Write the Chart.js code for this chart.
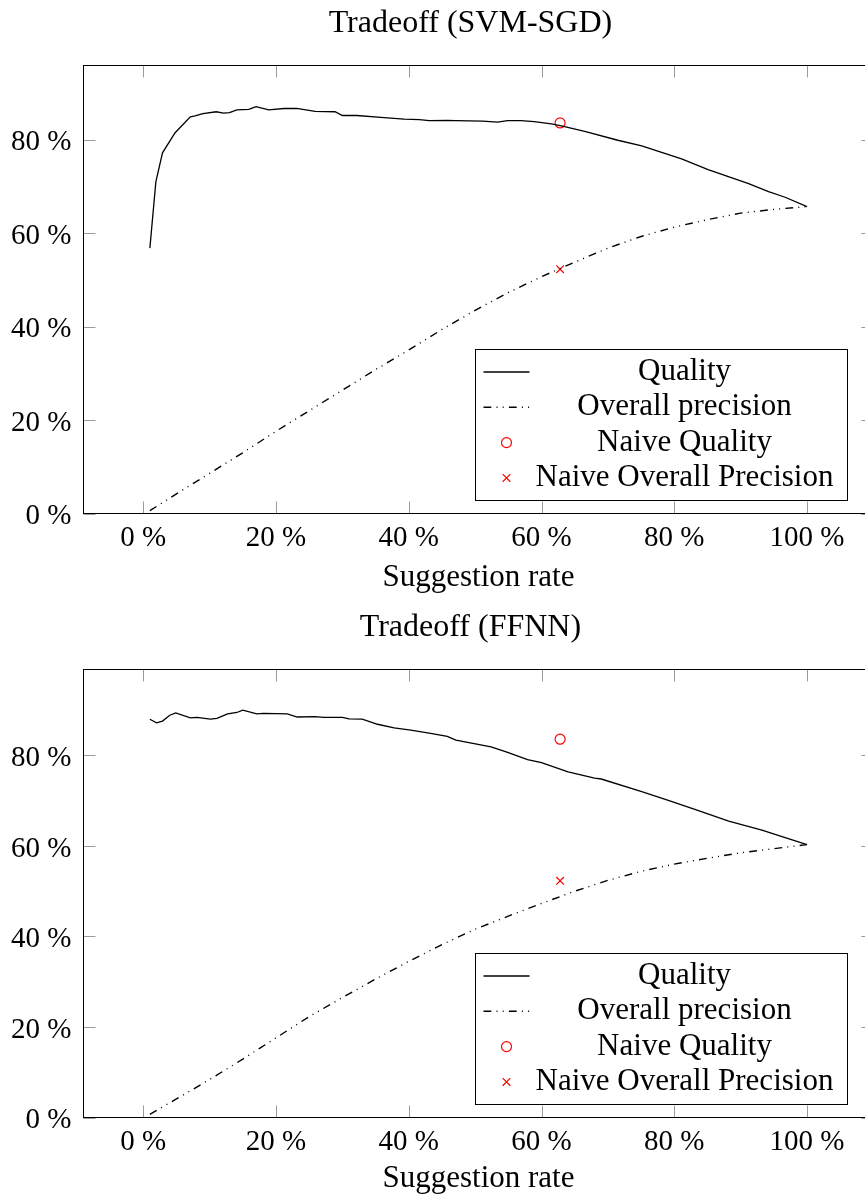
<!DOCTYPE html>
<html>
<head>
<meta charset="utf-8">
<script src="https://cdn.jsdelivr.net/npm/chart.js@4"></script>
<style>
  html, body { margin: 0; padding: 0; background: #fff; overflow: hidden; width: 865px; height: 1195px; }
  canvas { position: absolute; left: 0; }
  #svmChart { top: 0; }
  #ffnnChart { top: 604px; }
</style>
</head>
<body>
<canvas id="svmChart" width="880" height="600"></canvas>
<canvas id="ffnnChart" width="880" height="600"></canvas>
<script>
const rateTicks = [0, 20, 40, 60, 80, 100];
const percentTicks = [0, 20, 40, 60, 80];

// SVM-SGD
const svmQualityRate = [1.0, 1.9, 2.9, 4.8, 7.1, 7.8, 9.0, 11.0, 12.1, 13.0, 14.1, 15.9, 17.0, 18.9, 21.2, 23.1, 25.9, 28.9, 30.0, 32.2, 35.8, 39.3, 41.6, 43.1, 45.8, 47.1, 51.1, 53.4, 54.9, 56.9, 58.9, 61.5, 63.0, 66.5, 71.5, 75.1, 81.1, 85.1, 91.2, 94.2, 96.7, 100];
const svmQuality = [56.8, 71.0, 77.2, 81.5, 84.9, 85.1, 85.6, 86.0, 85.7, 85.8, 86.4, 86.5, 87.1, 86.4, 86.7, 86.7, 86.1, 86.0, 85.2, 85.2, 84.8, 84.4, 84.3, 84.1, 84.15, 84.1, 84.0, 83.8, 84.1, 84.1, 83.9, 83.4, 83.0, 81.8, 79.9, 78.7, 75.9, 73.6, 70.6, 68.9, 67.7, 65.7];
const svmPrecisionRate = [1, 5, 10, 15, 20, 25, 30, 35, 40, 45, 50, 55, 60, 65, 70, 75, 80, 85, 90, 95, 100];
const svmPrecision = [0.6, 4.2, 8.6, 13.0, 17.6, 22.0, 26.4, 30.8, 35.0, 39.4, 43.5, 47.3, 50.7, 53.8, 56.8, 59.3, 61.3, 62.9, 64.3, 65.1, 65.7];

// FFNN
const ffnnQualityRate = [1.0, 2.0, 2.9, 4.0, 4.9, 7.1, 8.1, 10.1, 11.1, 12.7, 14.1, 15.0, 17.1, 18.1, 21.7, 23.2, 25.9, 27.2, 30.0, 31.0, 33.0, 35.3, 37.8, 40.3, 43.3, 45.8, 47.1, 52.4, 54.9, 57.9, 60.0, 64.0, 68.0, 69.0, 75.1, 79.1, 83.1, 88.2, 93.2, 100];
const ffnnQuality = [88.0, 87.2, 87.6, 88.9, 89.4, 88.3, 88.4, 88.05, 88.2, 89.2, 89.5, 90.0, 89.2, 89.3, 89.2, 88.5, 88.6, 88.4, 88.4, 88.1, 88.05, 86.9, 86.1, 85.6, 84.9, 84.2, 83.4, 81.9, 80.7, 79.1, 78.4, 76.4, 75.0, 74.8, 72.0, 70.1, 68.1, 65.5, 63.5, 60.3];
const ffnnPrecisionRate = [1, 5, 10, 15, 20, 25, 30, 35, 40, 45, 50, 55, 60, 65, 70, 75, 80, 85, 90, 95, 100];
const ffnnPrecision = [0.7, 4.1, 8.4, 12.9, 17.6, 22.3, 26.5, 30.6, 34.5, 38.2, 41.6, 44.5, 47.3, 50.0, 52.4, 54.4, 56.0, 57.3, 58.5, 59.4, 60.3];

// naive baseline (same for both models)
const naiveRate = [62.8];
const naiveQuality = [83.6];
const naivePrecision = [52.3];

const seriesLabels = ['Quality', 'Overall precision', 'Naive Quality', 'Naive Overall Precision'];

const fontFamily = '"Liberation Serif", "Times New Roman", serif';
const precisionDash = [7.8, 5.2, 1, 5.2, 1, 5.2];

function points(xs, ys) {
  return xs.map((x, i) => ({x: x, y: ys[i]}));
}

// pgfplots look: black frame, ticks pointing inwards on all four sides, boxed legend bottom right
const boxPlugin = {
  id: 'box',
  afterLayout(chart) {
    // pgfplots puts the title a little left of the box centre here
    if (chart.titleBlock) {
      chart.titleBlock.left -= 16;
    }
  },
  afterDatasetsDraw(chart) {
    const {ctx, chartArea: a, scales: {x, y}} = chart;
    const tickLen = 12;
    ctx.save();

    ctx.strokeStyle = '#9a9a9a';
    ctx.lineWidth = 1;
    ctx.beginPath();
    x.ticks.forEach(t => {
      const px = Math.round(x.getPixelForValue(t.value)) + 0.5;
      ctx.moveTo(px, a.bottom); ctx.lineTo(px, a.bottom - tickLen);
      ctx.moveTo(px, a.top); ctx.lineTo(px, a.top + tickLen);
    });
    y.ticks.forEach(t => {
      const py = Math.round(y.getPixelForValue(t.value)) + 0.5;
      ctx.moveTo(a.left, py); ctx.lineTo(a.left + tickLen, py);
      ctx.moveTo(a.right, py); ctx.lineTo(a.right - tickLen, py);
    });
    ctx.stroke();

    ctx.strokeStyle = '#000';
    ctx.strokeRect(a.left, a.top, a.right - a.left, a.bottom - a.top);

    // legend
    const w = 372, h = 151, rowH = 35.3;
    const left = Math.round(a.right - 26 - w) + 0.5;
    const top = Math.round(a.bottom - 14 - h) + 0.5;
    ctx.fillStyle = '#fff';
    ctx.fillRect(left, top, w, h);
    ctx.strokeStyle = '#000';
    ctx.lineWidth = 1;
    ctx.strokeRect(left, top, w, h);

    chart.data.datasets.forEach((ds, i) => {
      const cy = top + 22.5 + i * rowH;
      if (ds.showLine) {
        ctx.setLineDash(ds.borderDash || []);
        ctx.strokeStyle = ds.borderColor;
        ctx.lineWidth = ds.borderWidth;
        ctx.beginPath();
        ctx.moveTo(left + 8, cy);
        ctx.lineTo(left + 54, cy);
        ctx.stroke();
        ctx.setLineDash([]);
      } else {
        ctx.strokeStyle = ds.pointBorderColor;
        ctx.fillStyle = 'rgba(0,0,0,0)';
        ctx.lineWidth = ds.pointBorderWidth;
        Chart.helpers.drawPoint(ctx, {
          pointStyle: ds.pointStyle, radius: ds.pointRadius,
          borderWidth: ds.pointBorderWidth, rotation: 0
        }, left + 31, cy);
      }
      ctx.fillStyle = '#000';
      ctx.font = '31px ' + fontFamily;
      ctx.textAlign = 'center';
      ctx.textBaseline = 'middle';
      ctx.fillText(ds.label, left + 209, cy);
    });

    ctx.restore();
  }
};

function makeChart(canvasId, title, yMax, qualityRate, quality, precisionRate, precision, xTitleGap) {
  return new Chart(document.getElementById(canvasId), {
    type: 'scatter',
    data: {
      datasets: [{
        label: seriesLabels[0],
        data: points(qualityRate, quality),
        showLine: true,
        borderColor: '#000',
        borderWidth: 1.3,
        pointRadius: 0
      }, {
        label: seriesLabels[1],
        data: points(precisionRate, precision),
        showLine: true,
        borderColor: '#000',
        borderWidth: 1.4,
        borderDash: precisionDash,
        pointRadius: 0
      }, {
        label: seriesLabels[2],
        data: points(naiveRate, naiveQuality),
        showLine: false,
        pointStyle: 'circle',
        pointRadius: 5,
        pointBorderWidth: 1.2,
        pointBorderColor: '#ff0000',
        pointBackgroundColor: 'rgba(0,0,0,0)'
      }, {
        label: seriesLabels[3],
        data: points(naiveRate, naivePrecision),
        showLine: false,
        pointStyle: 'crossRot',
        pointRadius: 5.4,
        pointBorderWidth: 1.2,
        pointBorderColor: '#ff0000',
        pointBackgroundColor: 'rgba(0,0,0,0)'
      }]
    },
    options: {
      responsive: false,
      animation: false,
      events: [],
      layout: {padding: {left: 0, right: 6.5, top: 0, bottom: 0}},
      elements: {line: {tension: 0}},
      plugins: {
        legend: {display: false},
        tooltip: {enabled: false},
        title: {
          display: true,
          text: title,
          color: '#000',
          fullSize: false,
          font: {family: fontFamily, size: 32, weight: 'normal'},
          padding: {top: 4.8, bottom: 22.3}
        }
      },
      scales: {
        x: {
          type: 'linear',
          min: -9,
          max: 110,
          afterBuildTicks: s => { s.ticks = rateTicks.map(v => ({value: v})); },
          afterFit: s => { s.height = 86.5; },
          grid: {display: false, drawTicks: false},
          border: {display: false},
          ticks: {
            padding: 7,
            color: '#000',
            maxRotation: 0,
            font: {family: fontFamily, size: 29},
            callback: v => v + ' %'
          },
          title: {
            display: true,
            text: 'Suggestion rate',
            color: '#000',
            font: {family: fontFamily, size: 31},
            padding: {top: 0, bottom: xTitleGap}
          }
        },
        y: {
          type: 'linear',
          min: 0,
          max: yMax,
          afterBuildTicks: s => { s.ticks = percentTicks.map(v => ({value: v})); },
          afterFit: s => { s.width = 83.5; },
          grid: {display: false, drawTicks: false},
          border: {display: false},
          ticks: {
            padding: 12,
            labelOffset: 3,
            color: '#000',
            font: {family: fontFamily, size: 29},
            callback: v => v + ' %'
          }
        }
      }
    },
    plugins: [boxPlugin]
  });
}

makeChart('svmChart', 'Tradeoff (SVM-SGD)', 95.9, svmQualityRate, svmQuality, svmPrecisionRate, svmPrecision, 4);
makeChart('ffnnChart', 'Tradeoff (FFNN)', 99.0, ffnnQualityRate, ffnnQuality, ffnnPrecisionRate, ffnnPrecision, 6.5);
</script>
</body>
</html>
